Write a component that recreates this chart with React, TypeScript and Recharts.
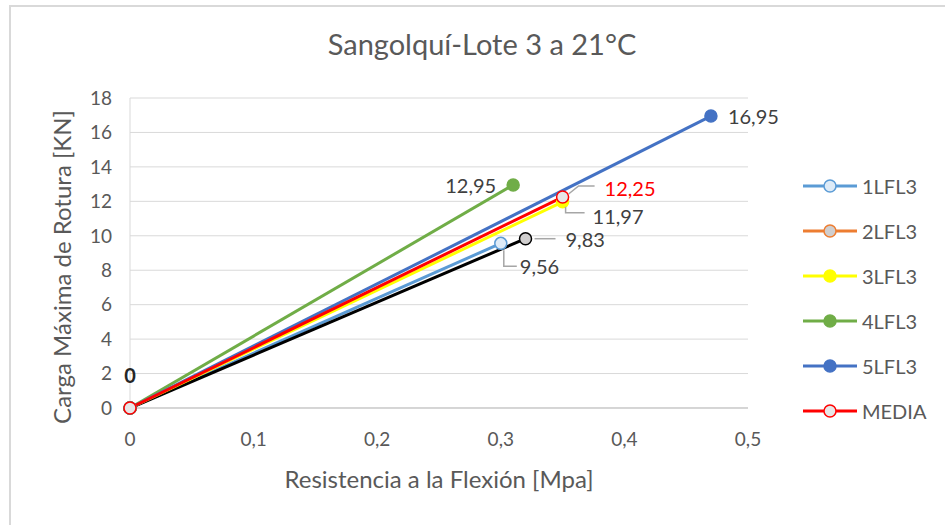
import { LineChart, Line, XAxis, YAxis, CartesianGrid, LabelList } from 'recharts';

// Resistencia a la flexión [Mpa] (x) y carga máxima de rotura [KN] (y), por probeta
const seriesNames = ['1LFL3', '2LFL3', '3LFL3', '4LFL3', '5LFL3', 'MEDIA'];
const resistencia1 = [0, 0.3];
const carga1 = [0, 9.56];
const resistencia2 = [0, 0.32];
const carga2 = [0, 9.83];
const resistencia3 = [0, 0.35];
const carga3 = [0, 11.97];
const resistencia4 = [0, 0.31];
const carga4 = [0, 12.95];
const resistencia5 = [0, 0.47];
const carga5 = [0, 16.95];
const resistenciaMedia = [0, 0.35];
const cargaMedia = [0, 12.25];

const xTicks = [0, 0.1, 0.2, 0.3, 0.4, 0.5];
const yTicks = [0, 2, 4, 6, 8, 10, 12, 14, 16, 18];

const FONT = 'Lato, "Noto Sans", sans-serif';
const TEXT = '#595959';
const LABEL = '#404040';
const LEADER = '#A6A6A6';

const toPoints = (xs: number[], ys: number[]) => xs.map((x, i) => ({ x, y: ys[i] }));

const fmt = (v: number) => String(v).replace('.', ',');

interface LabelStyle {
  dx: number;
  dy: number;
  anchor: 'start' | 'end';
  color: string;
  leader?: number[][];
}

const series = [
  {
    name: seriesNames[0], data: toPoints(resistencia1, carga1),
    stroke: '#5B9BD5', fill: '#DEEBF7', markStroke: '#5B9BD5', legendStroke: '#5B9BD5',
    label: { dx: 19, dy: 23, anchor: 'start', color: LABEL, leader: [[3, 7], [3, 23], [16, 23]] } as LabelStyle,
  },
  {
    name: seriesNames[1], data: toPoints(resistencia2, carga2),
    stroke: '#000000', fill: '#D0CECE', markStroke: '#000000', legendStroke: '#ED7D31',
    label: { dx: 40, dy: 0, anchor: 'start', color: LABEL, leader: [[9, 0], [30, 0]] } as LabelStyle,
    zeroLabel: true,
  },
  {
    name: seriesNames[2], data: toPoints(resistencia3, carga3),
    stroke: '#FFFF00', fill: '#FFFF00', markStroke: '#FFFF00', legendStroke: '#FFFF00',
    label: { dx: 30, dy: 14, anchor: 'start', color: LABEL, leader: [[3, 5], [3, 11], [22, 11]] } as LabelStyle,
  },
  {
    name: seriesNames[3], data: toPoints(resistencia4, carga4),
    stroke: '#70AD47', fill: '#70AD47', markStroke: '#70AD47', legendStroke: '#70AD47',
    label: { dx: -17, dy: 0, anchor: 'end', color: LABEL } as LabelStyle,
  },
  {
    name: seriesNames[4], data: toPoints(resistencia5, carga5),
    stroke: '#4472C4', fill: '#4472C4', markStroke: '#4472C4', legendStroke: '#4472C4',
    label: { dx: 17, dy: 0, anchor: 'start', color: LABEL } as LabelStyle,
  },
  {
    name: seriesNames[5], data: toPoints(resistenciaMedia, cargaMedia),
    stroke: '#FF0000', fill: '#E7E6E6', markStroke: '#FF0000', legendStroke: '#FF0000',
    label: { dx: 42, dy: -9, anchor: 'start', color: '#FF0000', leader: [[6, -3], [16, -11], [32, -11]] } as LabelStyle,
  },
];

function makeLabel(style: LabelStyle, zeroLabel?: boolean) {
  return (props: any) => {
    const { x, y, value, index } = props;
    if (index === 0) {
      if (!zeroLabel) return null;
      return (
        <text x={x} y={y - 33} textAnchor="middle" dominantBaseline="central"
          fontFamily={FONT} fontSize={20} fontWeight={700} fill="#262626">
          {fmt(value)}
        </text>
      );
    }
    return (
      <g>
        {style.leader && (
          <polyline
            points={style.leader.map(([px, py]) => `${x + px},${y + py}`).join(' ')}
            fill="none" stroke={LEADER} strokeWidth={1.5}
          />
        )}
        <text x={x + style.dx} y={y + style.dy} textAnchor={style.anchor} dominantBaseline="central"
          fontFamily={FONT} fontSize={20} fill={style.color}>
          {fmt(value)}
        </text>
      </g>
    );
  };
}

function LegendBox() {
  return (
    <div style={{ position: 'absolute', left: 802, top: 163, display: 'flex', flexDirection: 'column' }}>
      {series.map((s) => (
        <div key={s.name} style={{ height: 45, display: 'flex', alignItems: 'center' }}>
          <svg width={56} height={16}>
            <line x1={1} y1={8} x2={55} y2={8} stroke={s.legendStroke} strokeWidth={3} />
            <circle cx={28} cy={8} r={6} fill={s.fill}
              stroke={s.name === '2LFL3' ? '#ED7D31' : s.markStroke} strokeWidth={1.5} />
          </svg>
          <span style={{ marginLeft: 4, fontFamily: FONT, fontSize: 20, color: TEXT }}>{s.name}</span>
        </div>
      ))}
    </div>
  );
}

export default function App() {
  return (
    <div style={{ position: 'absolute', left: 0, top: 0, width: 945, height: 525, overflow: 'hidden', background: '#fff' }}>
      <div style={{ position: 'absolute', left: 9, top: 5, width: 960, height: 560, border: '2px solid #D9D9D9' }} />
      <div style={{ position: 'absolute', left: 0, width: 964, top: 26, textAlign: 'center', fontFamily: FONT, fontSize: 29, color: TEXT }}>
        Sangolquí-Lote 3 a 21°C
      </div>
      <div style={{ position: 'absolute', left: 130, width: 618, top: 464, textAlign: 'center', fontFamily: FONT, fontSize: 24, color: TEXT }}>
        Resistencia a la Flexión [Mpa]
      </div>
      <div style={{
        position: 'absolute', left: 61, top: 267, transform: 'translate(-50%, -50%) rotate(-90deg)',
        whiteSpace: 'nowrap', fontFamily: FONT, fontSize: 24, color: TEXT,
      }}>
        Carga Máxima de Rotura [KN]
      </div>
      <div style={{ position: 'absolute', left: 0, top: 0 }}>
        <LineChart width={945} height={525} margin={{ top: 98, right: 197, bottom: 87, left: 80 }}>
          <CartesianGrid vertical={false} stroke="#D9D9D9" strokeWidth={1} />
          <XAxis
            type="number" dataKey="x" domain={[0, 0.5]} ticks={xTicks} height={30}
            tickFormatter={fmt} tickLine={false} tickSize={0} tickMargin={25}
            axisLine={{ stroke: '#BFBFBF' }}
            tick={{ fill: TEXT, fontSize: 19, fontFamily: FONT }}
          />
          <YAxis
            type="number" dataKey="y" domain={[0, 18]} ticks={yTicks} width={50}
            tickLine={false} tickSize={0} tickMargin={18}
            axisLine={{ stroke: '#D9D9D9' }}
            tick={{ fill: TEXT, fontSize: 19, fontFamily: FONT }}
          />
          {series.map((s) => (
            <Line
              key={s.name} data={s.data} dataKey="y" name={s.name} type="linear"
              stroke={s.stroke} strokeWidth={3}
              dot={{ r: 6, fill: s.fill, stroke: s.markStroke, strokeWidth: 1.5 }}
              isAnimationActive={false}
            >
              <LabelList dataKey="y" content={makeLabel(s.label, s.zeroLabel)} />
            </Line>
          ))}
        </LineChart>
      </div>
      <LegendBox />
    </div>
  );
}
